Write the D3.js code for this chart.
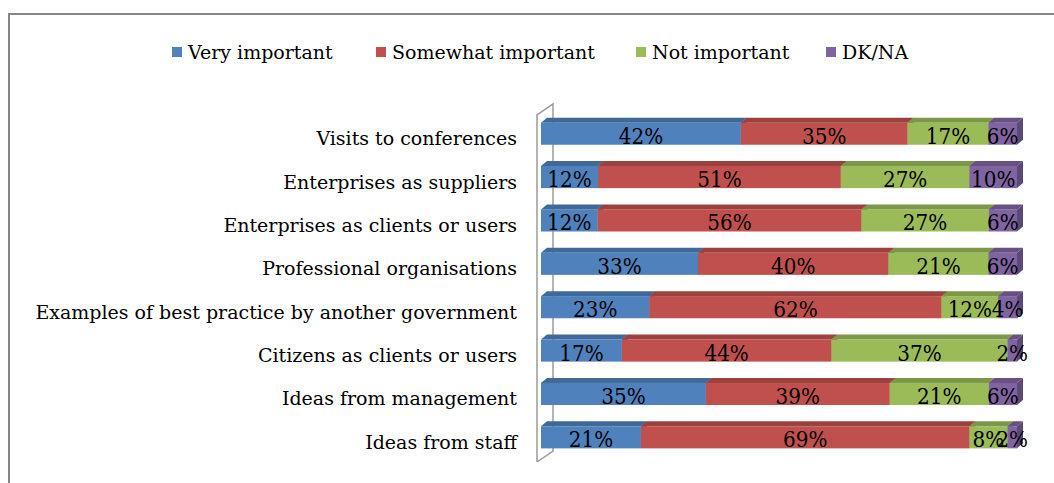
<!DOCTYPE html>
<html>
<head>
<meta charset="utf-8">
<script src="https://cdn.jsdelivr.net/npm/d3@7"></script>
<style>
  body { margin: 0; background: #fff; }
  text { font-family: "DejaVu Serif", serif; fill: #000; }
</style>
</head>
<body>
<script>
// data (top to bottom)
const categories = [
  "Visits to conferences",
  "Enterprises as suppliers",
  "Enterprises as clients or users",
  "Professional organisations",
  "Examples of best practice by another government",
  "Citizens as clients or users",
  "Ideas from management",
  "Ideas from staff"
];
const seriesNames = ["Very important", "Somewhat important", "Not important", "DK/NA"];
const veryImportant     = [42, 12, 12, 33, 23, 17, 35, 21];
const somewhatImportant = [35, 51, 56, 40, 62, 44, 39, 69];
const notImportant      = [17, 27, 27, 21, 12, 37, 21, 8];
const dkna              = [6, 10, 6, 6, 4, 2, 6, 2];

const colors = ["#4F81BD", "#C0504D", "#9BBB59", "#8064A2"];

function main(){
  const W = 1054, H = 483;
  const svg = d3.select("body").append("svg")
      .attr("width", W).attr("height", H);

  // outer chart frame
  svg.append("rect")
      .attr("x", 9).attr("y", 14)
      .attr("width", W + 20).attr("height", H + 20)
      .attr("fill", "none").attr("stroke", "#868686").attr("stroke-width", 2);

  const rows = categories.map((c, i) => {
    const vals = [veryImportant[i], somewhatImportant[i], notImportant[i], dkna[i]];
    const total = d3.sum(vals);
    let acc = 0;
    return {cat: c, segs: vals.map((v, k) => {
      const s = {k, v, x0: acc / total, x1: (acc + v) / total};
      acc += v;
      return s;
    })};
  });

  const x = d3.scaleLinear().domain([0, 1]).range([541, 1017]);
  const y = d3.scaleBand().domain(categories).range([112, 459])
      .paddingInner(0.49).paddingOuter(0.245);

  // 3d depth of bars and the wall
  const dx = 6, dy = 5;
  const wall = {x: 537, top: 115, bottom: 462, dx: 16, dy: 11};

  // the side wall, outline only
  svg.append("path")
      .attr("d", `M${wall.x},${wall.bottom} L${wall.x},${wall.top} L${wall.x + wall.dx},${wall.top - wall.dy} L${wall.x + wall.dx},${wall.bottom - wall.dy} L${wall.x},${wall.bottom}`)
      .attr("fill", "none").attr("stroke", "#9a9a9a").attr("stroke-width", 1.5);

  const shade = (c, f) => d3.color(c).darker(f).formatHex();

  const g = svg.append("g");
  rows.forEach(r => {
    const yt = y(r.cat), yb = yt + y.bandwidth();
    r.segs.forEach(s => {
      const xa = x(s.x0), xb = x(s.x1);
      // top face
      g.append("path")
          .attr("d", `M${xa},${yt} L${xa + dx},${yt - dy} L${xb + dx},${yt - dy} L${xb},${yt} Z`)
          .attr("fill", shade(colors[s.k], 0.6));
      // right face
      g.append("path")
          .attr("d", `M${xb},${yt} L${xb + dx},${yt - dy} L${xb + dx},${yb - dy} L${xb},${yb} Z`)
          .attr("fill", shade(colors[s.k], 0.9));
      // front
      g.append("rect")
          .attr("x", xa).attr("y", yt)
          .attr("width", xb - xa).attr("height", y.bandwidth())
          .attr("fill", colors[s.k]);
    });
  });

  // value labels (a bit taller than wide, like the source)
  rows.forEach(r => {
    r.segs.forEach(s => {
      const cx = x((s.x0 + s.x1) / 2), cy = y(r.cat) + y.bandwidth() / 2 + 10;
      svg.append("text")
          .attr("transform", `translate(${cx},${cy}) scale(1,1.15)`)
          .attr("text-anchor", "middle")
          .attr("font-size", "20px")
          .text(s.v + "%");
    });
  });

  // category labels
  svg.append("g").selectAll("text")
    .data(categories)
    .join("text")
      .attr("x", 517)
      .attr("y", d => y(d) + y.bandwidth() / 2 + 11.5)
      .attr("text-anchor", "end")
      .attr("font-size", "19px")
      .text(d => d);

  // legend
  const legendX = [172, 376, 636, 826];
  const leg = svg.append("g").selectAll("g")
    .data(seriesNames)
    .join("g")
      .attr("transform", (d, i) => `translate(${legendX[i]},47)`);
  leg.append("rect").attr("width", 10).attr("height", 10)
      .attr("fill", (d, i) => colors[i]);
  leg.append("text").attr("x", 16).attr("y", 12)
      .attr("font-size", "19px")
      .text(d => d);
}

main();
</script>
</body>
</html>
